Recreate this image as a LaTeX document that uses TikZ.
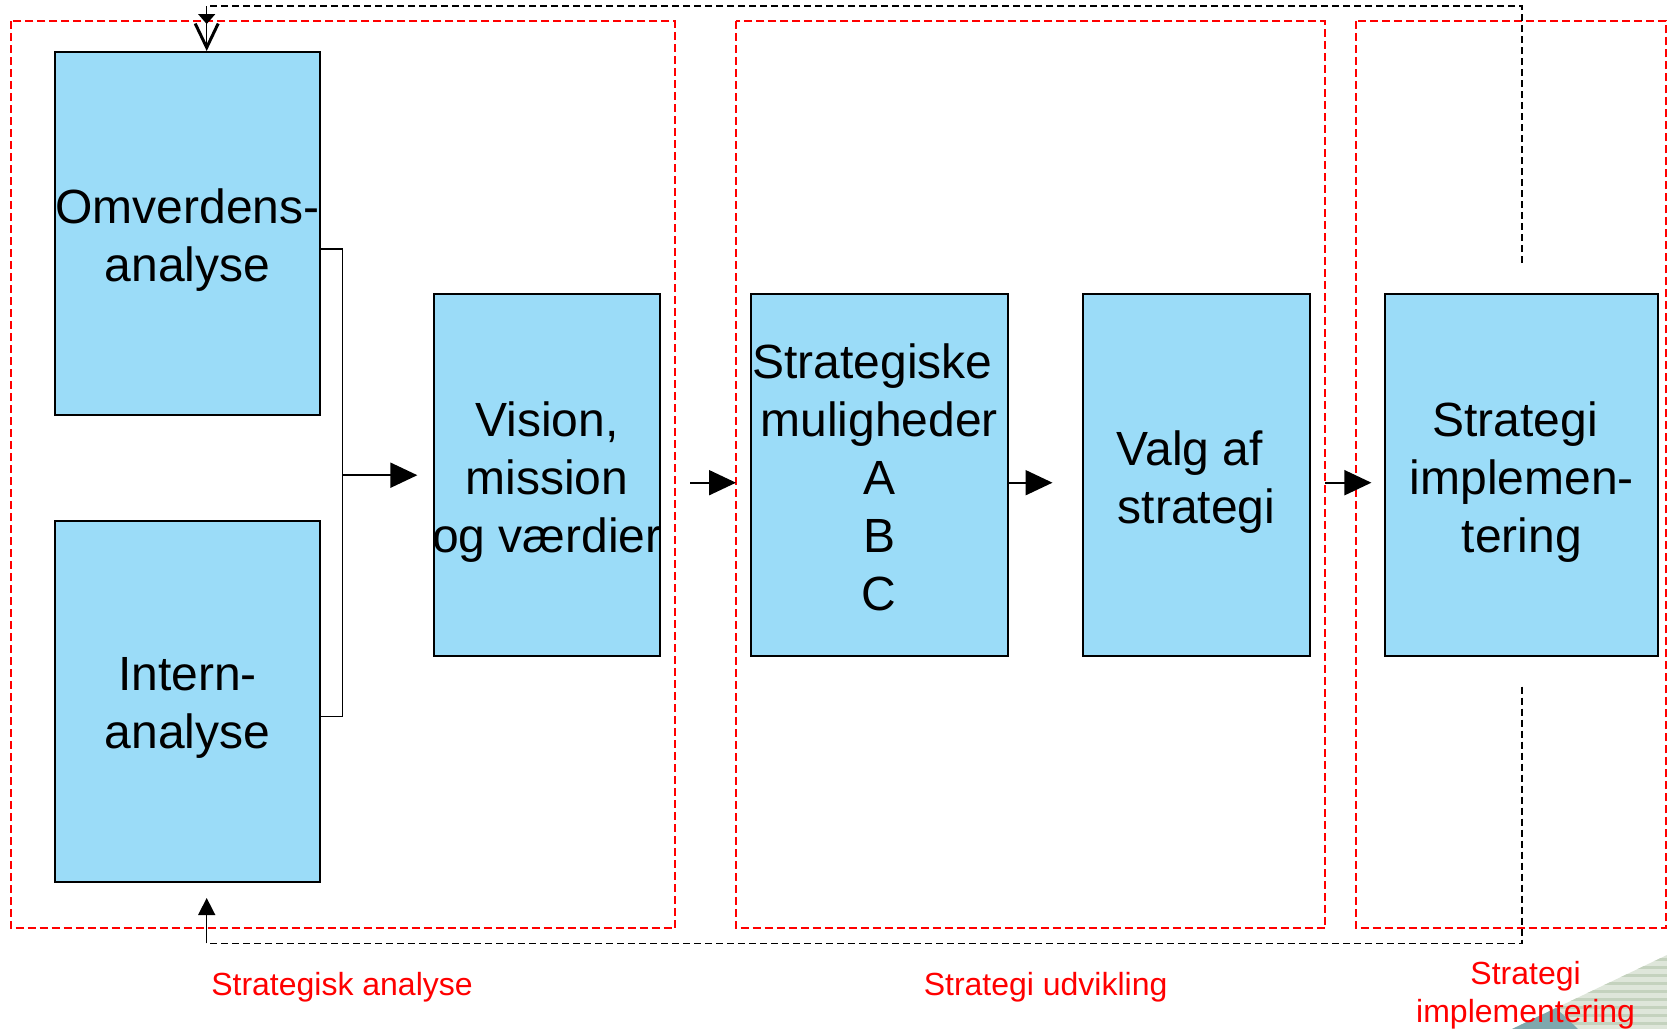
\documentclass[tikz,border=0pt]{standalone}
\usepackage{fontspec}
\setmainfont{Liberation Sans}
\usetikzlibrary{arrows.meta}
\definecolor{boxblue}{RGB}{155,220,248}
\definecolor{stripeA}{RGB}{222,230,218}
\definecolor{stripeB}{RGB}{196,210,190}
\definecolor{tealc}{RGB}{126,168,174}
\begin{document}
\begin{tikzpicture}[x=0.5pt,y=-0.5pt,
  blk/.style={draw=black, fill=boxblue, line width=1pt, inner sep=0pt},
  txt/.style={inner sep=0pt, align=center, font=\fontsize{24pt}{29pt}\selectfont},
  grp/.style={draw=red, line width=0.9pt, dash pattern=on 4pt off 2pt},
  fb/.style={draw=black, line width=0.75pt, dash pattern=on 3.5pt off 2pt},
  lbl/.style={text=red, align=center, font=\fontsize{16pt}{19pt}\selectfont},
  conn/.style={draw=black, line width=0.7pt},
  flow/.style={draw=black, line width=1pt, -{Triangle[length=13.5pt,width=12.5pt]}}]
\useasboundingbox (0,0) rectangle (1667,1029);

% decorative corner
\begin{scope}
\clip (1512,1029) -- (1667,955) -- (1667,1029) -- cycle;
\fill[stripeA] (1500,940) rectangle (1667,1029);
\foreach \yy in {958,966,...,1030} \fill[stripeB] (1500,\yy) rectangle (1667,\yy+3);
\fill[tealc] (1512,1029) -- (1556,1008) -- (1578,1029) -- cycle;
\end{scope}

% group frames
\draw[grp] (10.6,21.3) rectangle (675,928.3);
\draw[grp] (735.7,21.3) rectangle (1325,928.3);
\draw[grp] (1355.7,21.3) rectangle (1665.7,928.3);

% boxes
\node[blk, minimum width=132.35pt, minimum height=181.3pt] (omv) at (187.6,233.3) {};
\node[blk, minimum width=132.35pt, minimum height=180.7pt] (intern) at (187.6,701.7) {};
\node[blk, minimum width=113.25pt, minimum height=180.75pt] (vision) at (547,475.2) {};
\node[blk, minimum width=128.65pt, minimum height=180.75pt] (strat) at (879.2,475.2) {};
\node[blk, minimum width=113.2pt, minimum height=180.75pt] (valg) at (1196.5,475.2) {};
\node[blk, minimum width=136.6pt, minimum height=180.75pt] (impl) at (1521.8,475.2) {};

% box texts
\node[txt] (omvt) at ([yshift=-3.2pt]omv.center) {Omverdens-\\analyse};
\node[txt] (internt) at ([yshift=-3.2pt]intern.center) {Intern-\\analyse};
\node[txt] (visiont) at ([yshift=-3.2pt]vision.center) {Vision,\\mission\\og værdier};
\node[txt] (stratt) at ([yshift=-1.1pt]strat.center) {Strategiske\hspace*{0.278em}\\muligheder\\A\\B\\C};
\node[txt] (valgt) at ([yshift=-3.2pt]valg.center) {Valg af\hspace*{0.278em}\\strategi};
\node[txt] (implt) at ([yshift=-3.2pt]impl.center) {Strategi\hspace*{0.278em}\\implemen-\\tering};

% bracket and flow arrows
\coordinate (bx) at (342.7,475.2);
\draw[conn] ([yshift=-7.75pt]omv.east) -| (bx) |- ([yshift=-7.5pt]intern.east);
\draw[flow] (bx) -- ([xshift=-7.7pt]vision.west);

\coordinate (a1s) at (690,482.7);
\coordinate (a1e) at (736,482.7);
\draw[flow] (a1s) -- (a1e);
\coordinate (a2e) at (1052.5,482.7);
\draw[flow] ([yshift=-3.75pt]strat.east) -- (a2e);
\coordinate (a3s) at (1325,482.7);
\coordinate (a3e) at (1371.4,482.7);
\draw[flow] (a3s) -- (a3e);

% feedback loop
\coordinate (ftop) at (1522,263);
\coordinate (ftr) at (1522,6);
\coordinate (ftl) at (206.7,6);
\draw[fb] (ftop) -- (ftr) -- (ftl);
\draw[draw=black, line width=0.75pt, -{Triangle[length=5pt,width=8.5pt,sep=-1pt]Straight Barb[length=12pt,width=11.5pt,line width=1.5pt]}] (ftl) -- (ftl |- omv.north);

\coordinate (fbot) at (1522,686.7);
\coordinate (fbr) at (1522,943.3);
\coordinate (fbl) at (206.7,943.3);
\coordinate (fbtip) at (206.7,898);
\draw[fb] (fbot) -- (fbr) -- (fbl);
\draw[draw=black, line width=0.75pt, -{Triangle[length=8.5pt,width=8.5pt]}] (fbl) -- (fbtip);

% labels
\node[lbl] (la) at (342,987) {Strategisk analyse};
\node[lbl] (lu) at (1045.6,987) {Strategi udvikling};
\node[lbl] (li) at (1525.6,995.5) {Strategi\\implementering};
\end{tikzpicture}
\end{document}
